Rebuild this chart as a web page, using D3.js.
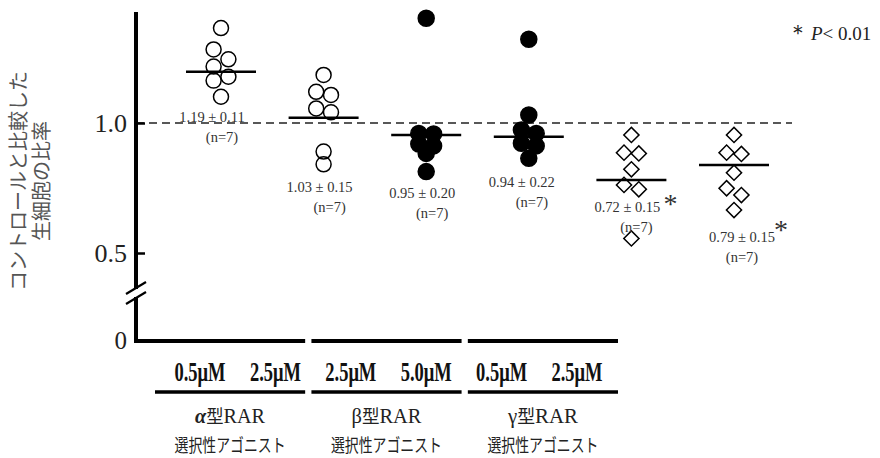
<!DOCTYPE html>
<html>
<head>
<meta charset="utf-8">
<script src="https://cdn.jsdelivr.net/npm/d3@7"></script>
<style>
  body { margin: 0; background: #fff; }
</style>
</head>
<body>
<div id="chartContainer"></div>
<script>
// Conditions, in drawing order
const conditions = ["a05", "a25", "b25", "b50", "g05", "g25"];
const doseLabels = ["0.5μM", "2.5μM", "2.5μM", "5.0μM", "0.5μM", "2.5μM"];
const receptorGroups = ["α", "β", "γ"];
const groupSuffix = "型RAR";
const groupSub = "選択性アゴニスト";

// Individual ratios (n=7 each)
const alpha05 = [1.365, 1.283, 1.245, 1.217, 1.178, 1.163, 1.101];
const alpha25 = [1.185, 1.120, 1.108, 1.056, 1.041, 0.890, 0.841];
const beta25 = [1.403, 0.960, 0.958, 0.919, 0.912, 0.883, 0.813];
const beta50 = [1.322, 1.031, 0.973, 0.960, 0.922, 0.912, 0.864];
const gamma05 = [0.954, 0.886, 0.883, 0.822, 0.762, 0.745, 0.556];
const gamma25 = [0.954, 0.886, 0.881, 0.809, 0.749, 0.723, 0.665];
const seriesValues = [alpha05, alpha25, beta25, beta50, gamma05, gamma25];

// Which column of the dot stack each point sits in (-1 left, 0 centre, 1 right)
const jitterSide = [
  [0, -1, 1, -1, 1, -1, 0],
  [0, -1, 1, -1, 1, 0, 0],
  [0, -1, 1, -1, 1, 0, 0],
  [0, 0, -1, 1, -1, 1, 0],
  [0, -1, 1, 0, -1, 1, 0],
  [0, -1, 1, 0, -1, 1, 0]
];

// Mean bars as drawn, and the printed summary
const meanValues = [1.197, 1.020, 0.954, 0.947, 0.781, 0.838];
const meanLabels = ["1.19 ± 0.11", "1.03 ± 0.15", "0.95 ± 0.20", "0.94 ± 0.22", "0.72 ± 0.15", "0.79 ± 0.15"];
const nLabel = "(n=7)";
const significant = [false, false, false, false, true, true];
const yTicks = [0.5, 1.0];

// Layout of the summary labels (value units for height, px for shift)
const labelAt = [1.004, 0.735, 0.712, 0.754, 0.658, 0.542];
const labelDx = [-9, -4, -4, -7, -4, 8];
const nDx = [10, 10, 10, 10, 9, 0];
const starDx = [0, 0, 0, 0, 36, 32];
const starDy = [0, 0, 0, 0, 1, -3];
const markerKind = ["open", "open", "filled", "filled", "diamond", "diamond"];

function createChart() {
    const width = 880;
    const height = 458;
    const axisX = 136;
    const axisTop = 12;
    const axisBottom = 341;

    const x = d3.scalePoint()
        .domain(conditions)
        .range([221, 734]);

    const y = d3.scaleLinear()
        .domain([0.5, 1.0])
        .range([253, 123]);

    const xDose = d3.scalePoint()
        .domain(conditions)
        .range([200, 577]);

    const xGroup = d3.scaleBand()
        .domain(receptorGroups)
        .range([155, 618])
        .paddingInner(0.04);

    const svg = d3.create("svg")
        .attr("viewBox", [0, 0, width, height])
        .attr("width", width)
        .attr("height", height)
        .style("font-family", "'Liberation Serif', serif");

    // Reference line at 1.0
    svg.append("line")
        .attr("x1", axisX).attr("x2", 792)
        .attr("y1", y(1.0)).attr("y2", y(1.0))
        .attr("stroke", "#222")
        .attr("stroke-width", 1.6)
        .attr("stroke-dasharray", "8,5");

    // Y axis: ticks point inward
    svg.append("g")
        .attr("transform", `translate(${axisX},0)`)
        .call(d3.axisLeft(y).tickValues(yTicks).tickFormat(d3.format(".1f")).tickSize(-9).tickPadding(9))
        .call(g => g.select(".domain").remove())
        .call(g => g.selectAll(".tick line").attr("stroke", "#000").attr("stroke-width", 2.5))
        .call(g => g.selectAll(".tick text")
            .attr("fill", "#222")
            .style("font-size", "26px")
            .style("font-family", "'Liberation Serif', serif"));

    // Axis line with a break
    const breakY = 293;
    svg.append("line")
        .attr("x1", axisX).attr("x2", axisX)
        .attr("y1", axisTop).attr("y2", breakY - 4)
        .attr("stroke", "#000").attr("stroke-width", 4);
    svg.append("line")
        .attr("x1", axisX).attr("x2", axisX)
        .attr("y1", breakY + 4).attr("y2", axisBottom + 1.5)
        .attr("stroke", "#000").attr("stroke-width", 4);
    [-5, 5].forEach(dy => {
        svg.append("line")
            .attr("x1", axisX - 10).attr("y1", breakY + dy + 6)
            .attr("x2", axisX + 10).attr("y2", breakY + dy - 6)
            .attr("stroke", "#000").attr("stroke-width", 2.2);
    });
    svg.append("text")
        .attr("x", axisX - 9)
        .attr("y", axisBottom + 8)
        .attr("text-anchor", "end")
        .attr("fill", "#222")
        .style("font-size", "25px")
        .text("0");

    // Y axis title (two vertical lines)
    const yTitle = svg.append("text")
        .attr("transform", "translate(30,181) rotate(-90)")
        .attr("text-anchor", "middle")
        .attr("fill", "#555")
        .style("font-family", "'Noto Sans CJK JP', sans-serif")
        .style("font-size", "20px");
    yTitle.append("tspan").attr("x", 0).attr("dy", "-0.2em").text("コントロールと比較した");
    yTitle.append("tspan").attr("x", 0).attr("dy", "1.15em").text("生細胞の比率");

    // Points
    const points = [];
    conditions.forEach((c, i) => {
        seriesValues[i].forEach((v, j) => points.push({ c, i, v, side: jitterSide[i][j] }));
    });
    const spread = 7.4;
    const diamond = d3.symbol(d3.symbolSquare, 115);

    svg.append("g")
        .selectAll("circle")
        .data(points.filter(d => markerKind[d.i] !== "diamond"))
        .join("circle")
        .attr("cx", d => x(d.c) + d.side * spread)
        .attr("cy", d => y(d.v))
        .attr("r", d => markerKind[d.i] === "filled" ? 8 : 7.5)
        .attr("fill", d => markerKind[d.i] === "filled" ? "#000" : "none")
        .attr("stroke", "#000")
        .attr("stroke-width", 1.5);

    svg.append("g")
        .selectAll("path")
        .data(points.filter(d => markerKind[d.i] === "diamond"))
        .join("path")
        .attr("d", diamond)
        .attr("transform", d => `translate(${x(d.c) + d.side * spread},${y(d.v)}) rotate(45)`)
        .attr("fill", "none")
        .attr("stroke", "#000")
        .attr("stroke-width", 1.5);

    // Mean bars
    svg.append("g")
        .selectAll("line")
        .data(conditions)
        .join("line")
        .attr("x1", d => x(d) - 35)
        .attr("x2", d => x(d) + 35)
        .attr("y1", (d, i) => y(meanValues[i]))
        .attr("y2", (d, i) => y(meanValues[i]))
        .attr("stroke", "#000")
        .attr("stroke-width", 2.5);

    // Summary labels
    const lab = svg.append("g")
        .attr("fill", "#333")
        .style("font-size", "14.5px");
    conditions.forEach((c, i) => {
        const cx = x(c) + labelDx[i];
        const by = y(labelAt[i]);
        lab.append("text")
            .attr("x", cx).attr("y", by)
            .attr("text-anchor", "middle")
            .text(meanLabels[i]);
        lab.append("text")
            .attr("x", cx + nDx[i]).attr("y", by + 20)
            .attr("text-anchor", "middle")
            .text(nLabel);
        if (significant[i]) {
            lab.append("text")
                .attr("x", cx + starDx[i]).attr("y", by + starDy[i])
                .style("font-size", "28px")
                .text("*");
        }
    });

    // Significance note
    const note = svg.append("text")
        .attr("x", 787).attr("y", 40)
        .attr("fill", "#222")
        .style("font-size", "19px");
    note.append("tspan").style("font-size", "22px").text("＊");
    note.append("tspan").attr("dx", 2).style("font-style", "italic").text("P");
    note.append("tspan").text("< 0.01");

    // Group bars under the axis
    svg.append("g")
        .selectAll("line")
        .data(receptorGroups)
        .join("line")
        .attr("x1", (d, i) => i === 0 ? axisX - 2 : xGroup(d))
        .attr("x2", d => xGroup(d) + xGroup.bandwidth())
        .attr("y1", axisBottom).attr("y2", axisBottom)
        .attr("stroke", "#000").attr("stroke-width", 4);

    svg.append("g")
        .selectAll("line")
        .data(receptorGroups)
        .join("line")
        .attr("x1", d => xGroup(d))
        .attr("x2", d => xGroup(d) + xGroup.bandwidth())
        .attr("y1", 392).attr("y2", 392)
        .attr("stroke", "#000").attr("stroke-width", 3.5);

    // Dose labels
    svg.append("g")
        .selectAll("text")
        .data(conditions)
        .join("text")
        .attr("x", d => xDose(d))
        .attr("y", 381)
        .attr("text-anchor", "middle")
        .attr("textLength", 51)
        .attr("lengthAdjust", "spacingAndGlyphs")
        .attr("fill", "#111")
        .style("font-size", "27px")
        .style("font-weight", "bold")
        .text((d, i) => doseLabels[i]);

    // Receptor group labels
    receptorGroups.forEach((gname, i) => {
        const cx = xGroup(gname) + xGroup.bandwidth() / 2;
        const t = svg.append("text")
            .attr("x", cx).attr("y", 423)
            .attr("text-anchor", "middle")
            .attr("textLength", 70)
            .attr("lengthAdjust", "spacingAndGlyphs")
            .attr("fill", "#222")
            .style("font-size", "21px");
        t.append("tspan")
            .style("font-weight", i === 0 ? "bold" : "normal")
            .style("font-style", i === 0 ? "italic" : "normal")
            .text(gname);
        t.append("tspan")
            .style("font-family", "'Noto Sans CJK JP', sans-serif")
            .style("font-size", "18px")
            .text(groupSuffix.slice(0, 1));
        t.append("tspan").text(groupSuffix.slice(1));

        svg.append("text")
            .attr("x", cx).attr("y", 452)
            .attr("text-anchor", "middle")
            .attr("textLength", 111)
            .attr("lengthAdjust", "spacingAndGlyphs")
            .attr("fill", "#222")
            .style("font-family", "'Noto Sans CJK JP', sans-serif")
            .style("font-size", "18px")
            .text(groupSub);
    });

    return svg.node();
}

document.getElementById("chartContainer").appendChild(createChart());
</script>
</body>
</html>
